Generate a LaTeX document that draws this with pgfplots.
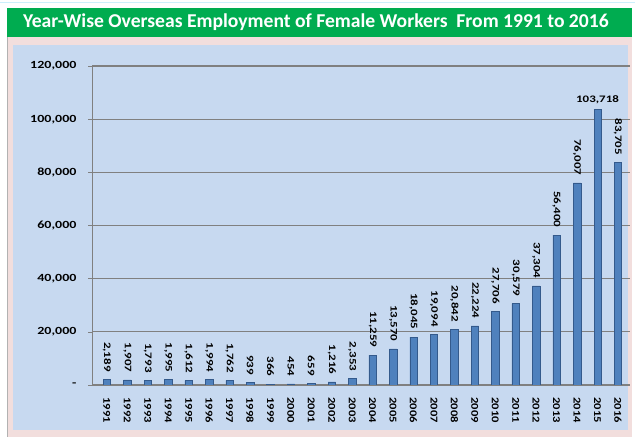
\documentclass[border=0pt]{standalone}
\usepackage{pgfplots}
\pgfplotsset{compat=1.18}
\usepackage{graphicx}
\usepackage{fontspec}
\setmainfont{Carlito}
\newcommand{\wide}[1]{\scalebox{1.28}[1]{#1}}
\definecolor{titlegreen}{RGB}{0,172,80}
\definecolor{panelpink}{RGB}{242,222,221}
\definecolor{plotblue}{RGB}{199,217,240}
\definecolor{barblue}{RGB}{79,129,189}
\definecolor{bardark}{RGB}{52,90,140}
\definecolor{gridgray}{RGB}{128,128,128}

\pgfplotstableread{
year value
1991 2189
1992 1907
1993 1793
1994 1995
1995 1612
1996 1994
1997 1762
1998 939
1999 366
2000 454
2001 659
2002 1216
2003 2353
2004 11259
2005 13570
2006 18045
2007 19094
2008 20842
2009 22224
2010 27706
2011 30579
2012 37304
2013 56400
2014 76007
2016 83705
}\femaletable
\pgfplotstableread{
year value
2015 103718
}\peaktable

\begin{document}
\begin{tikzpicture}
% background, pink panel, plot area
\path[use as bounding box] (0bp,0bp) rectangle (635bp,437bp);
\fill[white] (0bp,0bp) rectangle (635bp,437bp);
\draw[cyan!20, line width=1bp] (0bp,434bp) -- (635bp,434bp);
\fill[panelpink] (7bp,0bp) rectangle (632bp,400bp);
\draw[gray!60, line width=0.8bp] (7bp,0bp) -- (7bp,429bp);
\fill[plotblue] (13bp,7bp) rectangle (628bp,392bp);
\fill[titlegreen] (7bp,400bp) rectangle (632bp,429bp);
\node[text=white, font=\bfseries\fontsize{19.7}{22}\selectfont] at (316bp,414.5bp)
  {Year-Wise Overseas Employment of Female Workers\ \ From 1991 to 2016};

\begin{axis}[
    at={(92bp,52bp)}, anchor=south west,
    scale only axis,
    width=538bp, height=319bp,
    xmin=1990.27, xmax=2016.59,
    ymin=0, ymax=120000,
    axis x line*=bottom,
    axis y line*=left,
    axis line style={gridgray, line width=0.8bp, -},
    scaled y ticks=false,
    ytick={0,20000,40000,60000,80000,100000,120000},
    yticklabels={{\wide{-}},{\wide{20,000}},{\wide{40,000}},{\wide{60,000}},{\wide{80,000}},{\wide{100,000}},{\wide{120,000}}},
    xtick={1991,...,2016},
    minor xtick={1990.5,1991.5,...,2016.5},
    xtick style={draw=none},
    xticklabel style={rotate=-90, anchor=west, font=\bfseries\fontsize{10.5}{11}\selectfont, xshift=5bp},
    yticklabel style={font=\bfseries\fontsize{11}{12}\selectfont, xshift=-8bp},
    xticklabel={\scalebox{1.2}[1]{\pgfmathprintnumber[1000 sep={}]{\tick}}},
    ymajorgrids=true,
    grid style={gridgray, line width=1.1bp},
    tick align=outside,
    major tick length=4bp,
    minor tick length=4bp,
    ytick style={gridgray, line width=0.6bp},
    minor tick style={gridgray, line width=0.6bp},
    ybar, bar width=7.5bp,
    bar shift=0pt,
    nodes near coords={\scalebox{1.3}[1]{\pgfmathprintnumber{\pgfplotspointmeta}}},
    every node near coord/.append style={font=\bfseries\fontsize{10}{12}\selectfont, text=black},
    /pgf/number format/assume math mode=true,
    /pgf/number format/fixed,
    /pgf/number format/precision=0,
    /pgf/number format/1000 sep={,},
]
\addplot[draw=bardark, line width=0.5bp, fill=barblue,
    nodes near coords style={rotate=-90, anchor=east, xshift=-4bp}]
    table[x=year, y=value] {\femaletable};
\addplot[draw=bardark, line width=0.5bp, fill=barblue,
    nodes near coords style={anchor=south, yshift=2bp}]
    table[x=year, y=value] {\peaktable};
\end{axis}
\end{tikzpicture}
\end{document}
